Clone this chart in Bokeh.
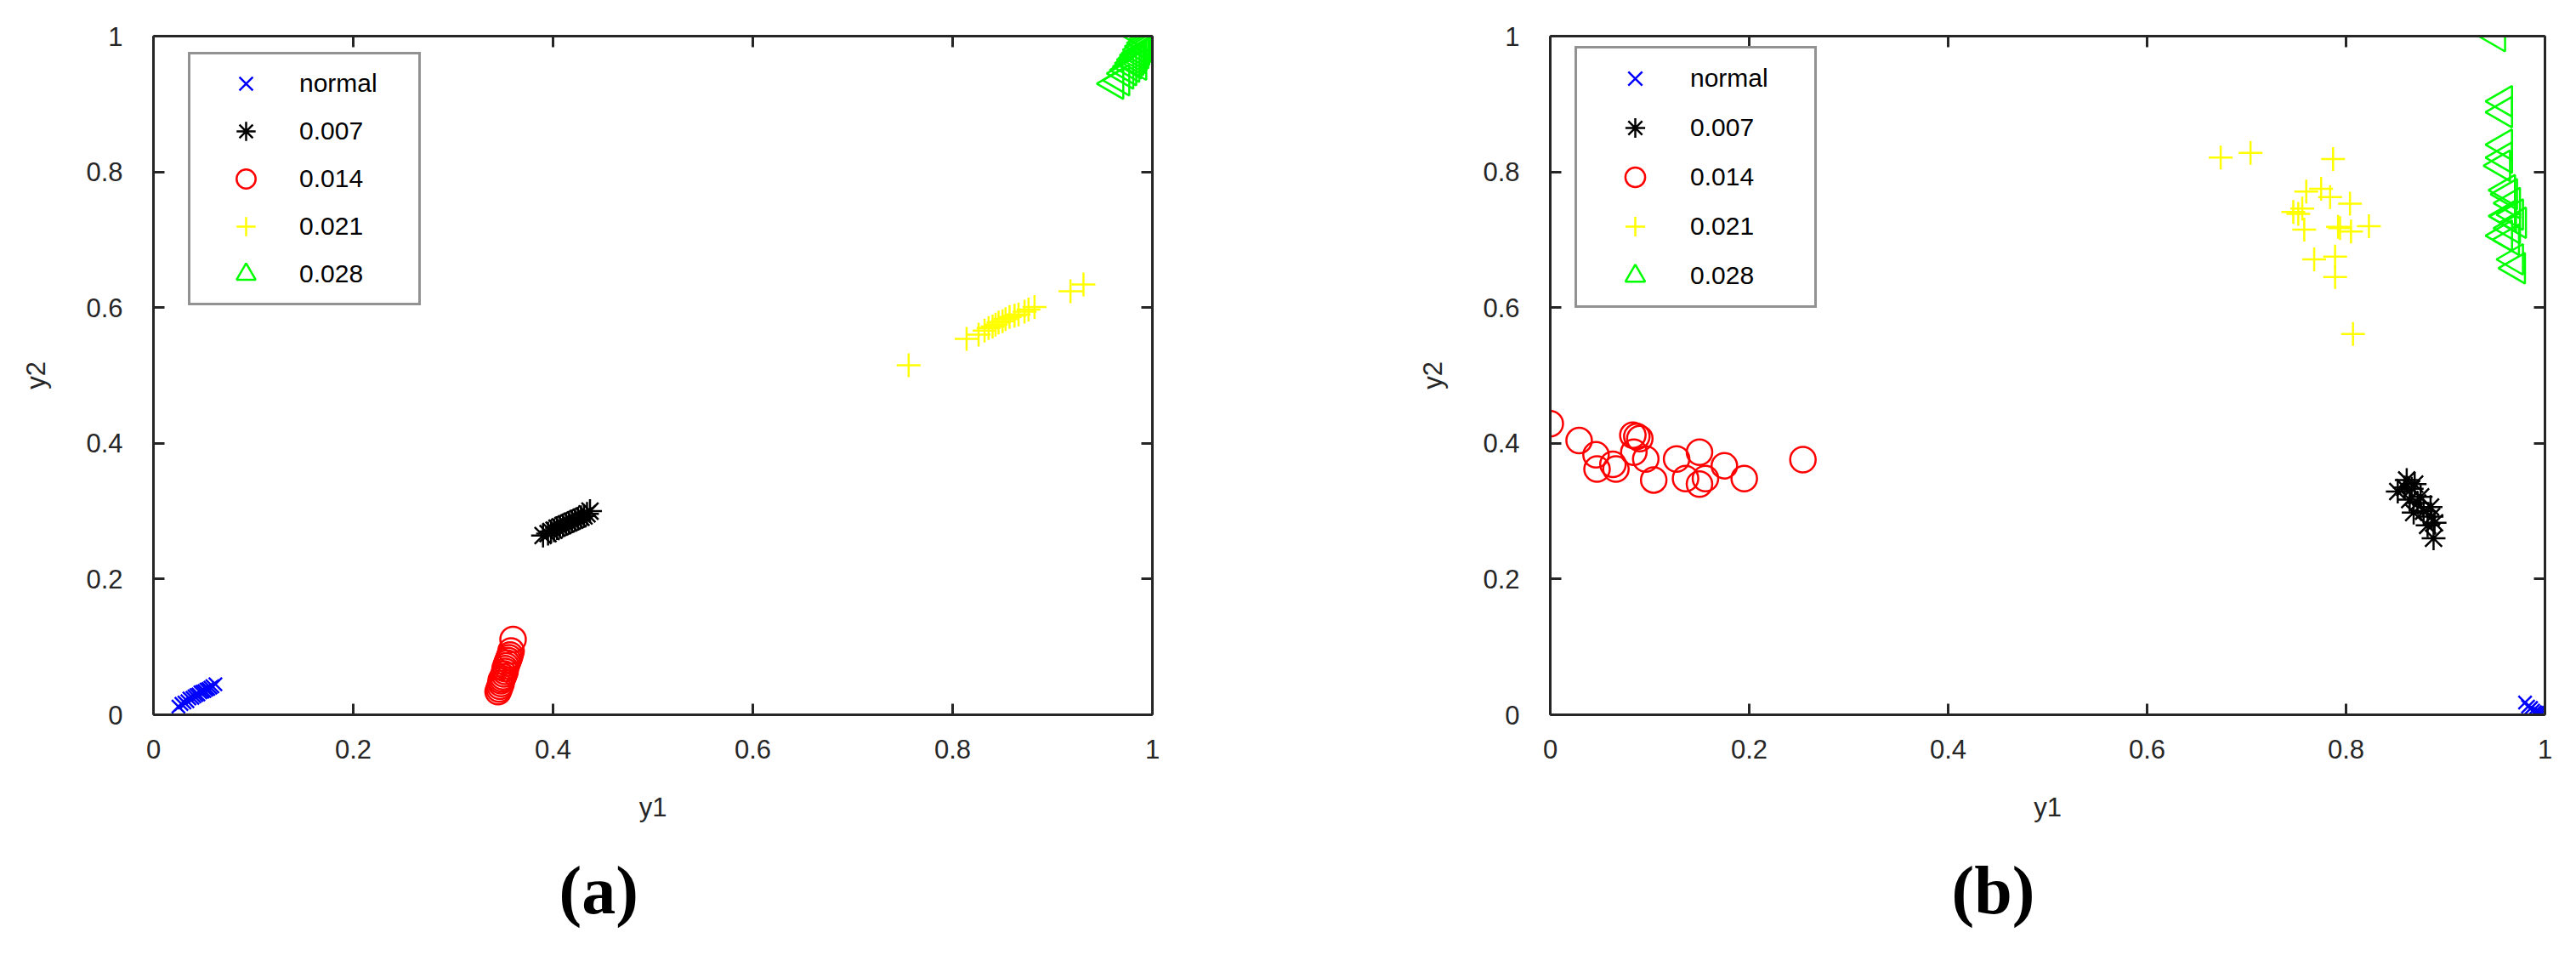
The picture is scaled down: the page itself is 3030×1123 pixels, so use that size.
import math
from bokeh.plotting import figure
from bokeh.models import Range1d, FixedTicker, LinearAxis, Legend, LegendItem, Title
from bokeh.layouts import row
from bokeh.embed import file_html
from bokeh.resources import INLINE

# ---------------- data ----------------
legend_labels = ["normal", "0.007", "0.014", "0.021", "0.028"]
tick_values = [0, 0.2, 0.4, 0.6, 0.8, 1]
tick_labels = {0: "0", 0.2: "0.2", 0.4: "0.4", 0.6: "0.6", 0.8: "0.8", 1: "1"}

# panel (a)
a_normal_x = [0.025, 0.028, 0.031, 0.034, 0.036, 0.039, 0.041, 0.043, 0.045, 0.047, 0.049, 0.051, 0.053, 0.055, 0.057, 0.059, 0.062]
a_normal_y = [0.012, 0.016, 0.018, 0.020, 0.024, 0.025, 0.027, 0.029, 0.030, 0.033, 0.034, 0.035, 0.037, 0.038, 0.040, 0.042, 0.045]
a_007_x = [0.390, 0.395, 0.398, 0.401, 0.404, 0.407, 0.410, 0.413, 0.416, 0.419, 0.422, 0.425, 0.428, 0.431, 0.434, 0.437]
a_007_y = [0.264, 0.267, 0.270, 0.272, 0.275, 0.277, 0.279, 0.281, 0.283, 0.285, 0.287, 0.289, 0.291, 0.293, 0.296, 0.300]
a_014_x = [0.345, 0.346, 0.347, 0.348, 0.348, 0.349, 0.350, 0.351, 0.352, 0.352, 0.353, 0.354, 0.355, 0.356, 0.357, 0.358, 0.360]
a_014_y = [0.034, 0.038, 0.042, 0.046, 0.050, 0.053, 0.056, 0.060, 0.064, 0.068, 0.072, 0.076, 0.080, 0.084, 0.088, 0.094, 0.111]
a_021_x = [0.756, 0.814, 0.826, 0.832, 0.836, 0.840, 0.843, 0.846, 0.850, 0.853, 0.857, 0.862, 0.866, 0.872, 0.876, 0.882, 0.918, 0.931]
a_021_y = [0.515, 0.554, 0.560, 0.566, 0.570, 0.572, 0.575, 0.578, 0.580, 0.583, 0.586, 0.588, 0.590, 0.594, 0.597, 0.601, 0.624, 0.634]
a_028_x = [0.962, 0.968, 0.972, 0.975, 0.978, 0.980, 0.982, 0.984, 0.985, 0.987, 0.988, 0.990, 0.992, 0.994, 0.996, 0.988, 0.985]
a_028_y = [0.930, 0.935, 0.945, 0.950, 0.955, 0.960, 0.965, 0.968, 0.972, 0.975, 0.980, 0.985, 0.990, 0.995, 0.980, 1.000, 0.958]

# panel (b)
b_normal_x = [0.980, 0.983, 0.986, 0.988, 0.990, 0.992, 0.994, 0.996]
b_normal_y = [0.018, 0.012, 0.010, 0.006, 0.004, 0.003, 0.002, 0.001]
b_007_x = [0.861, 0.852, 0.866, 0.869, 0.864, 0.872, 0.868, 0.878, 0.885, 0.886, 0.889, 0.882, 0.888, 0.859, 0.875]
b_007_y = [0.346, 0.329, 0.333, 0.340, 0.317, 0.312, 0.298, 0.300, 0.306, 0.292, 0.283, 0.279, 0.260, 0.335, 0.321]
b_014_x = [0.000, 0.029, 0.046, 0.047, 0.063, 0.066, 0.083, 0.087, 0.090, 0.084, 0.096, 0.104, 0.127, 0.150, 0.136, 0.150, 0.156, 0.175, 0.195, 0.254]
b_014_y = [0.429, 0.404, 0.383, 0.362, 0.369, 0.362, 0.412, 0.410, 0.407, 0.387, 0.377, 0.346, 0.377, 0.387, 0.348, 0.340, 0.348, 0.367, 0.348, 0.376]
b_021_x = [0.674, 0.704, 0.787, 0.760, 0.775, 0.784, 0.804, 0.747, 0.752, 0.756, 0.758, 0.792, 0.794, 0.805, 0.823, 0.768, 0.789, 0.789, 0.807]
b_021_y = [0.821, 0.828, 0.819, 0.771, 0.775, 0.763, 0.753, 0.741, 0.738, 0.746, 0.715, 0.719, 0.717, 0.712, 0.720, 0.671, 0.675, 0.645, 0.561]
b_028_x = [0.951, 0.958, 0.958, 0.958, 0.958, 0.956, 0.961, 0.963, 0.966, 0.961, 0.969, 0.972, 0.958, 0.965, 0.969, 0.971, 0.962, 0.966]
b_028_y = [1.000, 0.904, 0.888, 0.840, 0.821, 0.809, 0.773, 0.767, 0.754, 0.735, 0.737, 0.725, 0.706, 0.700, 0.671, 0.658, 0.734, 0.717]

AXIS_COLOR = "#262626"
FONT = "Liberation Sans"

styles = [
    # marker, color, size, angle
    ("x", "#0000FF", 22, 0.0),
    ("asterisk", "#000000", 28, 0.0),
    ("circle", "#FF0000", 30, 0.0),
    ("cross", "#FFFF00", 28, 0.0),
    ("triangle", "#00FF00", 36, math.pi / 2),
]


def style_axis(ax, show_labels, standoff=22):
    ax.ticker = FixedTicker(ticks=tick_values)
    ax.axis_line_color = AXIS_COLOR
    ax.axis_line_width = 3
    ax.major_tick_line_color = AXIS_COLOR
    ax.major_tick_line_width = 3
    ax.major_tick_in = 13
    ax.major_tick_out = 0
    ax.minor_tick_line_color = None
    if show_labels:
        ax.major_label_overrides = tick_labels
        ax.major_label_text_font = FONT
        ax.major_label_text_font_size = "31px"
        ax.major_label_text_color = AXIS_COLOR
        ax.major_label_standoff = standoff
        ax.axis_label_text_font = FONT
        ax.axis_label_text_font_size = "31px"
        ax.axis_label_text_font_style = "normal"
        ax.axis_label_text_color = AXIS_COLOR
    else:
        ax.major_label_overrides = {t: "" for t in tick_values}
        ax.major_label_text_font_size = "1px"
        ax.major_label_standoff = 0


def make_panel(series, letter, left, right, top, bottom, leg_loc, leg_geom, title_offset):
    p = figure(width=1515, height=1123, output_backend="svg", toolbar_location=None,
               x_range=Range1d(0, 1), y_range=Range1d(0, 1),
               min_border_left=left, min_border_right=right,
               min_border_top=top, min_border_bottom=bottom,
               x_axis_label="y1", y_axis_label="y2")
    p.title = None
    p.grid.visible = False
    p.outline_line_color = None
    p.background_fill_color = "white"
    p.border_fill_color = "white"

    style_axis(p.xaxis[0], True, 29)
    p.xaxis[0].axis_label_standoff = 37
    style_axis(p.yaxis[0], True, 36)
    p.yaxis[0].axis_label_standoff = 38

    top_ax = LinearAxis()
    style_axis(top_ax, False)
    p.add_layout(top_ax, "above")
    right_ax = LinearAxis()
    style_axis(right_ax, False)
    p.add_layout(right_ax, "right")

    items = []
    for (xs, ys), name, (marker, color, size, angle) in zip(series, legend_labels, styles):
        r = p.scatter(x=xs, y=ys, marker=marker, size=size, angle=angle,
                      line_color=color, fill_color=None, line_width=2.5)
        items.append(LegendItem(label=name, renderers=[r]))

    gh, gw, lw, st = leg_geom
    leg = Legend(items=items, location=leg_loc,
                 glyph_width=gw, glyph_height=gh, label_width=lw, label_height=20,
                 label_standoff=st, spacing=0, padding=6, margin=0,
                 label_text_font=FONT, label_text_font_size="30px",
                 label_text_color="#000000", label_text_baseline="alphabetic",
                 border_line_color=AXIS_COLOR, border_line_width=3,
                 background_fill_color="white", background_fill_alpha=1.0)
    p.add_layout(leg, "center")

    t = Title(text=letter, align="left", offset=title_offset, standoff=63,
              text_font="Liberation Serif", text_font_size="80px",
              text_font_style="bold", text_color="#000000")
    p.add_layout(t, "below")
    return p


series_a = [(a_normal_x, a_normal_y), (a_007_x, a_007_y), (a_014_x, a_014_y),
            (a_021_x, a_021_y), (a_028_x, a_028_y)]
series_b = [(b_normal_x, b_normal_y), (b_007_x, b_007_y), (b_014_x, b_014_y),
            (b_021_x, b_021_y), (b_028_x, b_028_y)]

pa = make_panel(series_a, "(a)", 180, 160, 42, 281, (41, 481), (56, 118, 134, 4), 477)
pb = make_panel(series_b, "(b)", 308, 37, 40, 283, (29, 478), (58, 124, 140, 3), 472)

layout = row(pa, pb)
open("out.html", "w").write(file_html(layout, INLINE))
